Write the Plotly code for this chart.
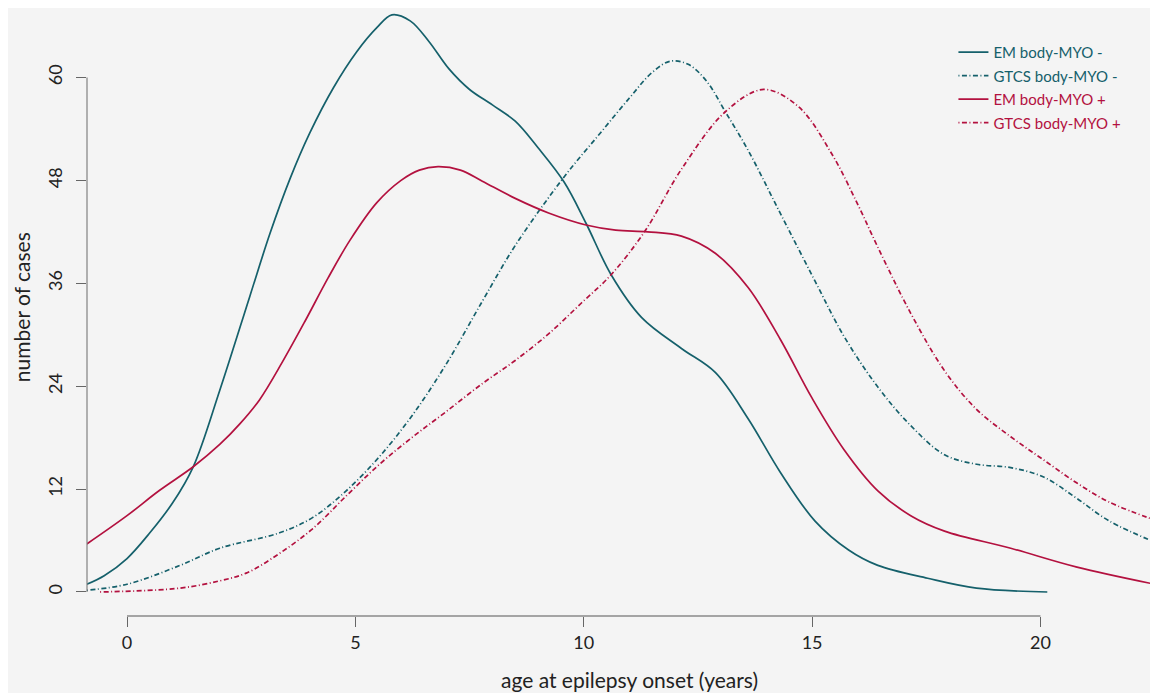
import plotly.graph_objects as go

# ---- data ----
em_neg_x = [-0.88, -0.5, 0.0, 0.5, 1.0, 1.45, 2.03, 2.69, 3.13, 3.57, 4.0, 4.52, 5.03, 5.47, 5.8, 6.2, 6.61,
            7.05, 7.5, 8.0, 8.5, 9.0, 9.57, 10.05, 10.6, 11.27, 12.14, 12.88, 13.6, 14.3, 15.06, 15.8, 16.44,
            17.53, 18.6, 20.15]
em_neg_y = [0.9, 1.9, 3.9, 6.9, 10.4, 14.6, 23.5, 34.5, 41.8, 48.2, 53.5, 58.8, 63.0, 65.8, 67.3, 66.6, 64.2,
            61.0, 58.6, 56.8, 54.9, 51.8, 47.8, 43.0, 37.0, 32.0, 28.4, 25.6, 20.2, 14.0, 8.3, 4.9, 3.1,
            1.6, 0.45, 0.0]

gtcs_neg_x = [-0.88, 0.0, 1.16, 2.03, 3.34, 4.07, 4.8, 5.53, 6.26, 6.98, 7.78, 8.5, 9.57, 10.36, 11.0, 11.5,
              11.9, 12.3, 12.7, 13.1, 13.6, 14.3, 15.06, 15.7, 16.44, 17.16, 17.9, 18.6, 19.35, 20.07, 20.8,
              21.5, 22.6]
gtcs_neg_y = [0.2, 0.9, 3.1, 5.1, 6.9, 8.7, 11.8, 15.8, 20.7, 26.5, 33.9, 40.4, 48.4, 53.5, 57.6, 60.6,
              61.9, 61.5, 59.5, 56.0, 51.5, 44.2, 36.3, 29.8, 23.9, 19.4, 16.0, 14.9, 14.5, 13.4, 10.9,
              8.3, 5.6]

em_pos_x = [-0.88, 0.0, 0.7, 1.45, 2.03, 2.47, 2.9, 3.4, 3.9, 4.4, 4.88, 5.47, 6.0, 6.4, 6.81, 7.3, 7.78,
            8.5, 9.23, 10.05, 10.7, 11.4, 12.14, 12.88, 13.6, 14.3, 15.0, 15.7, 16.44, 17.16, 17.9, 19.35,
            20.8, 22.6]
em_pos_y = [5.6, 8.9, 11.8, 14.6, 17.2, 19.6, 22.4, 26.8, 31.6, 36.6, 41.0, 45.4, 48.0, 49.2, 49.6, 49.2,
            47.9, 45.9, 44.2, 42.8, 42.2, 42.0, 41.5, 39.5, 35.5, 29.5, 22.6, 16.6, 11.8, 8.9, 7.1, 5.1,
            2.9, 0.8]

gtcs_pos_x = [-0.59, 1.16, 2.03, 2.61, 3.34, 4.07, 4.8, 5.53, 6.26, 6.98, 7.78, 8.5, 9.23, 9.95, 10.6, 11.33,
              12.14, 13.1, 13.94, 14.7, 15.43, 16.0, 16.44, 17.16, 17.9, 18.6, 19.35, 20.07, 20.8, 21.5, 22.6]
gtcs_pos_y = [0.0, 0.45, 1.3, 2.2, 4.5, 7.4, 11.2, 14.9, 18.1, 21.0, 24.3, 27.0, 30.1, 33.7, 37.0, 42.0,
              49.3, 56.0, 58.6, 56.6, 51.1, 45.2, 40.2, 32.5, 25.8, 21.3, 18.1, 15.4, 12.7, 10.5, 8.2]

x_ticks = [0, 5, 10, 15, 20]
y_ticks = [0, 12, 24, 36, 48, 60]

TEAL = "#15606b"
RED = "#b3113f"
DOTDASH = "1px,2.5px,5px,2.5px"

series = [
    ("EM body-MYO -", em_neg_x, em_neg_y, TEAL, "solid"),
    ("GTCS body-MYO -", gtcs_neg_x, gtcs_neg_y, TEAL, DOTDASH),
    ("EM body-MYO +", em_pos_x, em_pos_y, RED, "solid"),
    ("GTCS body-MYO +", gtcs_pos_x, gtcs_pos_y, RED, DOTDASH),
]

fig = go.Figure()
for i, (name, xs, ys, col, dash) in enumerate(series):
    fig.add_trace(go.Scatter(
        x=xs, y=ys, mode="lines", legendgroup=f"g{i}",
        name=f"<span style='color:{col}'>{name}</span>",
        line=dict(color=col, width=1.7, dash=dash, shape="spline", smoothing=1.0),
    ))

BG = "#f4f4f4"
FONT = "Lato, sans-serif"
fig.update_layout(
    width=1150, height=685,
    margin=dict(l=79, r=0, t=0, b=77),
    paper_bgcolor=BG,
    plot_bgcolor=BG,
    font=dict(family=FONT, size=18, color="#222222"),
    showlegend=True,
    legend=dict(x=0.809, y=0.954, xanchor="left", yanchor="top",
                bgcolor="rgba(0,0,0,0)", font=dict(size=15, family=FONT),
                itemwidth=30, tracegroupgap=1),
    xaxis=dict(range=[-0.876, 22.574], tickvals=x_ticks, ticktext=[str(v) for v in x_ticks],
               showgrid=False, zeroline=False, showline=False, automargin=False,
               ticks="outside", ticklen=10, tickcolor="#666666", tickwidth=1,
               ticklabelstandoff=0, tickfont=dict(size=18, family=FONT)),
    yaxis=dict(range=[-2.80, 68.10], tickvals=y_ticks, ticktext=[str(v) for v in y_ticks],
               showgrid=False, zeroline=False, showline=False, automargin=False,
               ticks="outside", ticklen=10, tickcolor="#666666", tickwidth=1,
               tickangle=-90, ticklabelstandoff=7, tickfont=dict(size=18, family=FONT)),
    annotations=[
        dict(text="age at epilepsy onset (years)", xref="paper", yref="paper",
             x=0.5065, y=0, xanchor="center", yanchor="middle", yshift=-63, showarrow=False,
             font=dict(size=21, family=FONT, color="#222222")),
        dict(text="number of cases", xref="paper", yref="paper", textangle=-90,
             x=0, y=0.508, xanchor="center", yanchor="middle", xshift=-66, showarrow=False,
             font=dict(size=21, family=FONT, color="#222222")),
    ],
    shapes=[
        # R-style axis lines spanning only the tick range
        dict(type="line", xref="x", yref="paper", x0=x_ticks[0], x1=x_ticks[-1], y0=0, y1=0,
             line=dict(color="#555555", width=1.2)),
        dict(type="line", xref="paper", yref="y", x0=0, x1=0, y0=y_ticks[0], y1=y_ticks[-1],
             line=dict(color="#808080", width=1.2)),
    ],
)

fig.write_html("out.html")
